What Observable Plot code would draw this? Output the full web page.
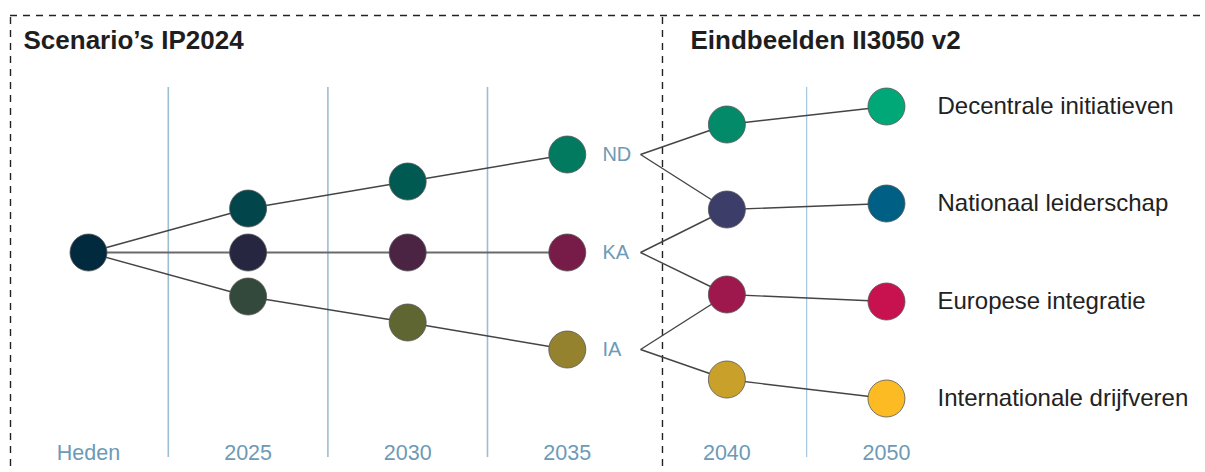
<!DOCTYPE html>
<html>
<head>
<meta charset="utf-8">
<script src="https://cdn.jsdelivr.net/npm/d3@7"></script>
<script src="https://cdn.jsdelivr.net/npm/@observablehq/plot@0.6"></script>
<style>
  html, body { margin: 0; padding: 0; background: #fff; }
  #chart svg { display: block; }
</style>
</head>
<body>
<div id="chart"></div>
<script>
// ---- Data ----
// time steps (x index 0..5)
const steps = ["Heden", "2025", "2030", "2035", "2040", "2050"];
// IP2024 scenarios (vertical offset from the central lane, per step 0..3)
const scenarios = ["ND", "KA", "IA"];
const ndOffsets = [0, 44, 71, 98];
const kaOffsets = [0, 0, 0, 0];
const iaOffsets = [0, -44, -70, -97];
const ndColors = ["#012a3f", "#02464b", "#005a51", "#027a5f"];
const kaColors = ["#012a3f", "#262641", "#4b2343", "#771b48"];
const iaColors = ["#012a3f", "#33493b", "#606632", "#95822f"];
// II3050 v2 end states
const endNames = ["Decentrale initiatieven", "Nationaal leiderschap", "Europese integratie", "Internationale drijfveren"];
const end2040Offsets = [128, 43, -42, -127];
const end2050Offsets = [146, 49, -49, -146];
const end2040Colors = ["#028a69", "#3c3d69", "#9e184d", "#c9a12a"];
const end2050Colors = ["#00a878", "#005f85", "#c8124f", "#fcbb22"];
// each IP scenario branches into two end states (indices into endNames)
const branchFrom = ["ND", "ND", "KA", "KA", "IA", "IA"];
const branchTo = [0, 1, 1, 2, 2, 3];
// section titles
const sectionTitles = ["Scenario\u2019s IP2024", "Eindbeelden II3050 v2"];

// ---- Derived tables ----
const ipOffsets = [ndOffsets, kaOffsets, iaOffsets];
const ipColors = [ndColors, kaColors, iaColors];

const ipDots = [];
ipOffsets.forEach((offs, s) => offs.forEach((v, i) => {
  if (i === 0 && s > 0) return;
  ipDots.push({x: i, y: v, c: ipColors[s][i]});
}));
const ipLinks = [];
ipOffsets.forEach((offs) => {
  for (let i = 0; i < offs.length - 1; i++) ipLinks.push({x1: i, y1: offs[i], x2: i + 1, y2: offs[i + 1]});
});
const labelX = 3.22, vertexX = 3.459;
const scenLabels = scenarios.map((s, k) => ({x: labelX, y: ipOffsets[k][3], t: s}));
const branchLinks = branchFrom.map((f, k) => {
  const s = scenarios.indexOf(f);
  return {x1: vertexX, y1: ipOffsets[s][3], x2: 4, y2: end2040Offsets[branchTo[k]]};
});
const endLinks = endNames.map((n, k) => ({x1: 4, y1: end2040Offsets[k], x2: 5, y2: end2050Offsets[k]}));
const endDots = [
  ...end2040Offsets.map((v, k) => ({x: 4, y: v, c: end2040Colors[k]})),
  ...end2050Offsets.map((v, k) => ({x: 5, y: v, c: end2050Colors[k]}))
];
const endLabels = endNames.map((n, k) => ({x: 5.3195, y: end2050Offsets[k], t: n}));
const stepLabels = steps.map((s, i) => ({x: i, t: s}));

// frame geometry in scale units
const frameLeft = -0.4887, frameDivider = 3.5965, frameTop = 237, frameBottom = -240;

const plot = Plot.plot({
  width: 1205,
  height: 472,
  margin: 0,
  x: {domain: [-0.5514, 6.999], axis: null},
  y: {domain: [-220, 252], axis: null},
  style: {fontFamily: "'Liberation Sans', Arial, sans-serif", background: "#fff"},
  marks: [
    // separators between time steps
    Plot.ruleX([0.5, 1.5, 2.5], {y1: -205, y2: 165, stroke: "#9dbdd0", strokeWidth: 1.6}),
    Plot.ruleX([4.5], {y1: -205, y2: 165, stroke: "#9cc0dc", strokeWidth: 1.1}),
    // dashed frame
    Plot.ruleY([frameTop], {x1: frameLeft, x2: 7, stroke: "#222", strokeWidth: 1.4, strokeDasharray: "7,6"}),
    Plot.ruleX([frameLeft, frameDivider], {y1: frameBottom, y2: frameTop, stroke: "#222", strokeWidth: 1.4, strokeDasharray: "7,6"}),
    // section titles
    Plot.text(sectionTitles, {x: [-0.4073, 3.772], y: [212, 212], text: d => d, textAnchor: "start",
      fontSize: 26, fontWeight: "bold", fill: "#1e1e1e"}),
    // connecting lines
    Plot.link(ipLinks, {x1: "x1", y1: "y1", x2: "x2", y2: "y2", stroke: d => d.y1 === 0 && d.y2 === 0 ? "#6a6a6a" : "#444", strokeWidth: d => d.y1 === 0 && d.y2 === 0 ? 2 : 1.4}),
    Plot.link(branchLinks, {x1: "x1", y1: "y1", x2: "x2", y2: "y2", stroke: "#444", strokeWidth: 1.4}),
    Plot.link(endLinks, {x1: "x1", y1: "y1", x2: "x2", y2: "y2", stroke: "#444", strokeWidth: 1.4}),
    // circles
    Plot.dot(ipDots, {x: "x", y: "y", r: 18.5, fill: "c", stroke: "#555", strokeWidth: 0.8}),
    Plot.dot(endDots, {x: "x", y: "y", r: 18.5, fill: "c", stroke: "#555", strokeWidth: 0.8}),
    // scenario labels
    Plot.text(scenLabels, {x: "x", y: "y", text: "t", textAnchor: "start", fontSize: 20, fill: "#6d9ab6"}),
    // end state labels
    Plot.text(endLabels, {x: "x", y: "y", text: "t", textAnchor: "start", fontSize: 24, fill: "#222"}),
    // time step labels
    Plot.text(stepLabels, {x: "x", y: -201, text: "t", fontSize: 21.5, fill: "#6d9ab6"})
  ]
});
document.getElementById("chart").appendChild(plot);
</script>
</body>
</html>
